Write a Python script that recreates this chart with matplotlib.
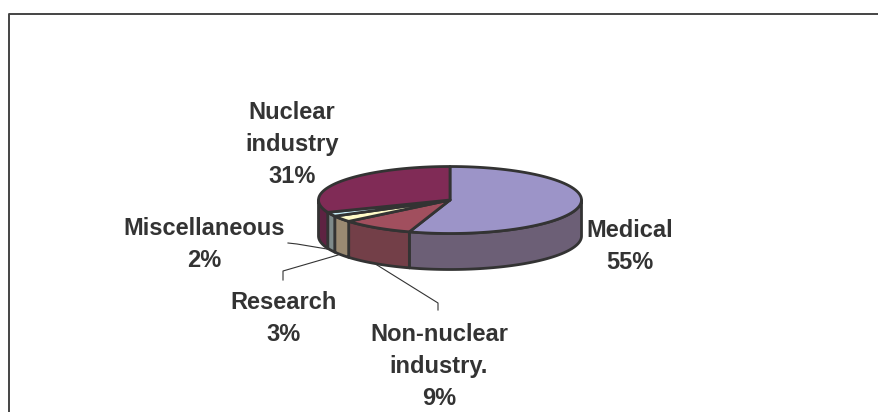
import numpy as np
import matplotlib.pyplot as plt
from matplotlib.patches import Polygon

labels = ["Medical", "Non-nuclear\nindustry.", "Research", "Miscellaneous", "Nuclear\nindustry"]
shares = [55, 9, 3, 2, 31]
top_colors = ["#9C94C8", "#A14F5E", "#FFFBC8", "#C8EEF8", "#802B56"]
side_colors = ["#6C5F76", "#733F48", "#9A8A72", "#7E8A8A", "#5E2342"]

W, H = 879, 412
cx, cy, rx, ry, depth = 450, 200, 131.5, 33.5, 36
edge = "#333333"

plt.rcParams["font.family"] = ["Liberation Sans", "DejaVu Sans"]
fig = plt.figure(figsize=(W / 100, H / 100), dpi=100)
ax = fig.add_axes([0, 0, 1, 1])
ax.set_xlim(0, W)
ax.set_ylim(H, 0)
ax.axis("off")


def rim(a0, a1, dy=0):
    # angles in degrees, clockwise from the top of the pie
    t = np.radians(np.linspace(a0, a1, 80))
    return np.column_stack([cx + rx * np.sin(t), cy + dy - ry * np.cos(t)])


# frame, only top and left are in the crop
ax.plot([9, 9, 879], [412, 13.5, 13.5], color="#444444", lw=1.4)

edges = np.cumsum([0] + shares) * 3.6

# side walls first, only the part facing the viewer (90 to 270 degrees)
for i in range(len(shares)):
    a0, a1 = max(edges[i], 90), min(edges[i + 1], 270)
    if a1 <= a0:
        continue
    pts = np.vstack([rim(a0, a1), rim(a0, a1, depth)[::-1]])
    ax.add_patch(Polygon(pts, fc=side_colors[i], ec=edge, lw=2, joinstyle="round"))

for i in range(len(shares)):
    pts = np.vstack([[cx, cy], rim(edges[i], edges[i + 1])])
    ax.add_patch(Polygon(pts, fc=top_colors[i], ec=edge, lw=2, joinstyle="round"))

# leader lines
ax.plot([288, 297, 327], [243, 244, 249], color="#333333", lw=0.8)
ax.plot([283, 283, 338], [280, 271, 255], color="#333333", lw=0.8)
ax.plot([377, 438, 438], [265, 303, 310], color="#333333", lw=0.8)

txt = dict(ha="center", va="center", fontsize=17, fontweight="bold",
           color="#333333", linespacing=1.48)
ax.text(629.5, 246.5, f"{labels[0]}\n{shares[0]}%", **txt)
ax.text(439, 366.5, f"{labels[1]}\n{shares[1]}%", **txt)
ax.text(284, 318.5, f"{labels[2]}\n{shares[2]}%", **txt)
ax.text(204.5, 244.5, f"{labels[3]}\n{shares[3]}%", **txt)
ax.text(292, 144.5, f"{labels[4]}\n{shares[4]}%", **txt)

fig.savefig("out.png", dpi=100)
